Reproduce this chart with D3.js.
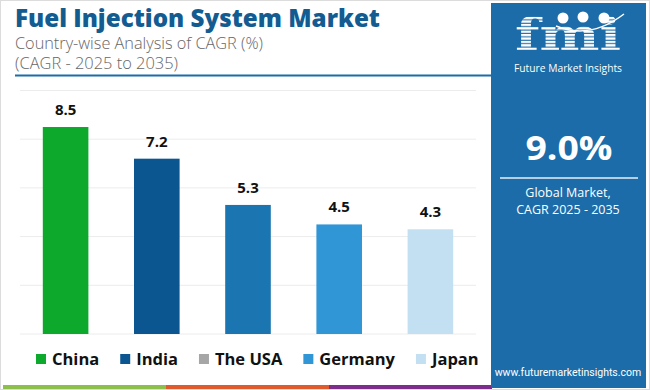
<!DOCTYPE html>
<html>
<head>
<meta charset="utf-8">
<script src="https://cdn.jsdelivr.net/npm/d3@7"></script>
<style>
  body { margin: 0; background: #fff; }
  svg { display: block; font-family: "Open Sans", "DejaVu Sans", sans-serif; }
</style>
</head>
<body>
<svg id="chart" width="650" height="390"></svg>
<script>
// chart data
const countries = ["China", "India", "The USA", "Germany", "Japan"];
const cagr = [8.5, 7.2, 5.3, 4.5, 4.3];
const barColors = ["#0ca92d", "#0b5690", "#1b75b0", "#3196d6", "#c3e0f2"];
const legendColors = ["#0ca92d", "#0b5690", "#a6a6a6", "#3196d6", "#c3e0f2"];
const gridTicks = [0, 2, 4, 6, 8, 10];
const globalCagr = "9.0%";

const svg = d3.select("#chart");
const W = 650, H = 390;
const panelColor = "#1b6ca8";

// outer frame
svg.append("rect").attr("x", 0.5).attr("y", 0.5).attr("width", W - 1).attr("height", H - 1)
    .attr("fill", "#fff").attr("stroke", "#dcdcdc");

// scales
const x = d3.scaleBand().domain(countries).range([20, 476]).paddingInner(0.5).paddingOuter(0.25);
const y = d3.scaleLinear().domain([0, 10]).range([334, 90.5]);

// gridlines
svg.append("g").selectAll("line")
    .data(gridTicks)
    .enter().append("line")
        .attr("x1", 20).attr("x2", 476)
        .attr("y1", d => y(d)).attr("y2", d => y(d))
        .attr("stroke", "#ececec").attr("stroke-width", 1);

// bars
const bars = svg.append("g").selectAll("g")
    .data(countries)
    .enter().append("g");

bars.append("rect")
    .attr("x", d => x(d))
    .attr("y", (d, i) => y(cagr[i]))
    .attr("width", x.bandwidth())
    .attr("height", (d, i) => y(0) - y(cagr[i]))
    .attr("fill", (d, i) => barColors[i]);

bars.append("text")
    .attr("x", d => x(d) + x.bandwidth() / 2)
    .attr("y", (d, i) => y(cagr[i]) - 12)
    .attr("text-anchor", "middle")
    .attr("font-size", 15).attr("font-weight", 700).attr("fill", "#111")
    .text((d, i) => cagr[i].toFixed(1));

// title block
svg.append("text").attr("x", 15).attr("y", 27)
    .attr("font-size", 25).attr("font-weight", 800).attr("fill", "#125c91")
    .attr("textLength", 365).attr("lengthAdjust", "spacingAndGlyphs")
    .text("Fuel Injection System Market");
svg.append("text").attr("x", 15).attr("y", 49)
    .attr("font-size", 16).attr("font-weight", 300).attr("fill", "#666")
    .attr("textLength", 248).attr("lengthAdjust", "spacingAndGlyphs")
    .text("Country-wise Analysis of CAGR (%)");
svg.append("text").attr("x", 15).attr("y", 69)
    .attr("font-size", 16).attr("font-weight", 300).attr("fill", "#666")
    .attr("textLength", 163).attr("lengthAdjust", "spacingAndGlyphs")
    .text("(CAGR - 2025 to 2035)");
svg.append("line").attr("x1", 15).attr("x2", 491).attr("y1", 75.5).attr("y2", 75.5)
    .attr("stroke", "#1b6ca8").attr("stroke-width", 2);

// legend, laid out left to right
const legend = svg.append("g");
let lx = 36;
countries.forEach((c, i) => {
    legend.append("rect").attr("x", lx).attr("y", 354).attr("width", 10).attr("height", 10)
        .attr("fill", legendColors[i]);
    const t = legend.append("text").attr("x", lx + 16).attr("y", 365)
        .attr("font-size", 16.5).attr("font-weight", 700).attr("fill", "#111")
        .text(c);
    lx += 16 + t.node().getComputedTextLength() + 21;
});

// bottom colour strip
const stripColors = ["#8cc04a", "#e05a2c", "#7d2e8c"];
svg.append("g").selectAll("rect")
    .data(stripColors)
    .enter().append("rect")
        .attr("x", (d, i) => 3 + i * 163)
        .attr("y", 385).attr("width", 163).attr("height", 4)
        .attr("fill", d => d);

// right panel
const panel = svg.append("g");
panel.append("rect").attr("x", 491).attr("y", 3).attr("width", 155).attr("height", 385)
    .attr("fill", panelColor);

// logo: striped fmi lettering
const defs = svg.append("defs");
const pat = defs.append("pattern").attr("id", "stripes").attr("patternUnits", "userSpaceOnUse")
    .attr("width", 10).attr("height", 3.4);
pat.append("rect").attr("width", 10).attr("height", 2.3).attr("fill", "#fff");

panel.append("text").attr("x", 568).attr("y", 50).attr("text-anchor", "middle")
    .attr("font-family", "DejaVu Serif, serif").attr("font-size", 44).attr("font-weight", 700)
    .attr("textLength", 106).attr("lengthAdjust", "spacingAndGlyphs")
    .attr("fill", "url(#stripes)")
    .text("fmi");
[[563, 18], [583, 17], [604, 18]].forEach(p => {
    panel.append("circle").attr("cx", p[0]).attr("cy", p[1]).attr("r", 5.5).attr("fill", "#fff");
});
panel.append("path").attr("d", "M556,26 Q590,40 624,14")
    .attr("fill", "none").attr("stroke", "#fff").attr("stroke-width", 1.5);
panel.append("text").attr("x", 568).attr("y", 72).attr("text-anchor", "middle")
    .attr("font-size", 10.5).attr("fill", "#fff")
    .attr("textLength", 108).attr("lengthAdjust", "spacingAndGlyphs")
    .text("Future Market Insights");

panel.append("text").attr("x", 569).attr("y", 160).attr("text-anchor", "middle")
    .attr("font-size", 34).attr("font-weight", 700).attr("fill", "#fff")
    .attr("textLength", 87).attr("lengthAdjust", "spacingAndGlyphs")
    .text(globalCagr);
panel.append("line").attr("x1", 500).attr("x2", 638).attr("y1", 178).attr("y2", 178)
    .attr("stroke", "#e8f0f7").attr("stroke-width", 1.5);
panel.append("text").attr("x", 568).attr("y", 197).attr("text-anchor", "middle")
    .attr("font-size", 12.5).attr("fill", "#fff").text("Global Market,");
panel.append("text").attr("x", 568).attr("y", 214).attr("text-anchor", "middle")
    .attr("font-size", 12.5).attr("fill", "#fff").text("CAGR 2025 - 2035");
panel.append("text").attr("x", 568).attr("y", 376).attr("text-anchor", "middle")
    .attr("font-family", "Roboto, sans-serif").attr("font-size", 10.5).attr("fill", "#fff")
    .text("www.futuremarketinsights.com");
</script>
</body>
</html>
